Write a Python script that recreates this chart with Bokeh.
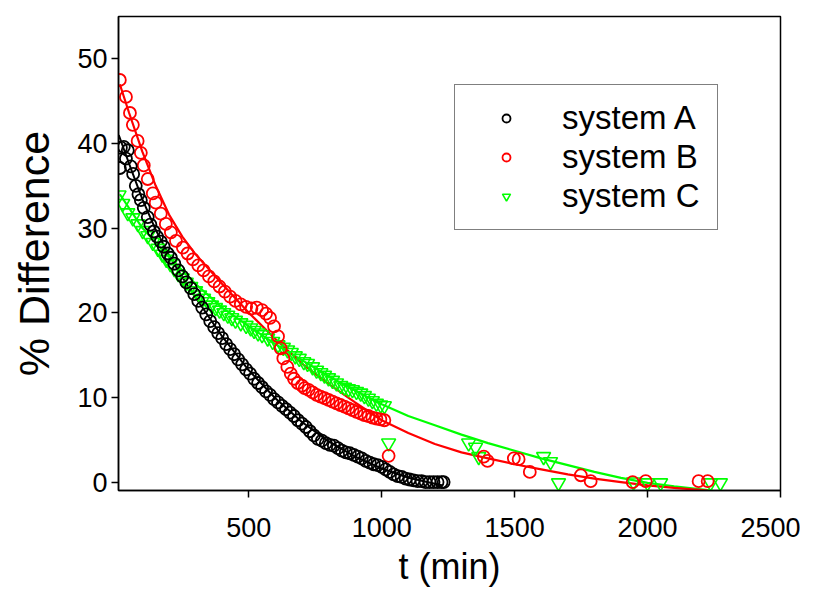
from bokeh.plotting import figure
from bokeh.models import Legend, LegendItem, FixedTicker
from bokeh.embed import file_html
from bokeh.resources import INLINE

# ---------------- data ----------------
a_t = [15, 19, 30, 38, 45, 56, 65, 75, 85, 94, 105, 120, 130, 143, 155, 169, 180, 195, 207, 220,
       235, 250, 265, 282, 295, 310, 325, 340, 355, 370, 385, 400, 415, 430, 445, 460, 475, 490, 505, 520,
       535, 550, 565, 580, 595, 610, 625, 640, 655, 670, 685, 700, 715, 730, 745, 760, 775, 790, 805, 820,
       835, 850, 865, 880, 895, 910, 925, 940, 955, 970, 985, 1000, 1015, 1030, 1045, 1060, 1075, 1090, 1105, 1120,
       1135, 1150, 1165, 1180, 1195, 1210, 1225, 1233]
a_y = [37.1, 39.5, 39.6, 38.2, 39.2, 37.3, 36.4, 35.0, 34.0, 33.3, 32.4, 31.3, 30.4, 29.6, 29.0, 28.4, 27.8, 27.0, 26.5, 25.8,
       25.0, 24.3, 23.6, 22.9, 22.2, 21.4, 20.6, 19.8, 19.0, 18.3, 17.6, 17.0, 16.3, 15.7, 15.1, 14.5, 13.9, 13.3, 12.8, 12.2,
       11.7, 11.2, 10.7, 10.3, 9.8, 9.4, 9.0, 8.6, 8.2, 7.8, 7.3, 6.9, 6.5, 6.0, 5.5, 5.1, 4.9, 4.6, 4.4, 4.3,
       4.0, 3.7, 3.5, 3.4, 3.2, 3.0, 2.8, 2.5, 2.3, 2.1, 2.0, 1.8, 1.5, 1.2, 0.9, 0.7, 0.6, 0.4, 0.3, 0.2,
       0.1, 0.1, 0.0, 0.0, 0.0, 0.0, 0.0, 0.0]

b_t = [15, 38, 53, 64, 82, 94, 105, 120, 139, 150, 169, 188, 207, 226, 252, 270, 290, 310, 330, 350,
       370, 390, 410, 430, 450, 470, 490, 510, 530, 550, 565, 580, 595, 610, 620, 630, 645, 658, 670, 684,
       700, 710, 725, 740, 755, 770, 785, 800, 815, 830, 845, 860, 875, 890, 905, 920, 935, 950, 965, 980,
       995, 1010, 1026, 1384, 1398, 1497, 1515, 1557, 1749, 1786, 1944, 1993, 2192, 2226]
b_y = [47.5, 45.5, 43.6, 42.2, 40.3, 38.9, 37.4, 35.8, 34.1, 33.0, 31.7, 30.5, 29.5, 28.5, 27.7, 27.0, 26.3, 25.6, 25.0, 24.3,
       23.7, 23.1, 22.5, 21.9, 21.4, 21.0, 20.7, 20.5, 20.6, 20.3, 19.9, 19.4, 18.4, 17.2, 15.8, 14.6, 13.6, 12.8, 12.2, 11.7,
       11.4, 11.1, 10.9, 10.6, 10.3, 10.1, 9.9, 9.7, 9.5, 9.3, 9.1, 8.9, 8.7, 8.5, 8.3, 8.1, 7.9, 7.8, 7.6, 7.5,
       7.4, 7.3, 3.1, 3.0, 2.5, 2.8, 2.7, 1.2, 0.8, 0.1, 0.0, 0.1, 0.1, 0.1]

c_t = [12, 26, 45, 64, 83, 101, 120, 139, 158, 175, 190, 205, 220, 235, 250, 265, 282, 300, 315, 330,
       346, 360, 375, 390, 406, 421, 436, 450, 470, 490, 507, 520, 535, 550, 571, 590, 610, 630, 646, 660,
       675, 690, 707, 721, 740, 755, 771, 785, 800, 815, 830, 846, 860, 875, 890, 905, 921, 935, 950, 965,
       980, 996, 1010, 1026, 1327, 1353, 1365, 1609, 1635, 1665, 1947, 2000, 2049, 2237, 2274]
c_y = [33.9, 32.9, 31.8, 31.2, 30.5, 29.7, 29.1, 28.3, 27.6, 26.9, 26.3, 25.8, 25.2, 24.6, 24.1, 23.6, 23.1, 22.6, 22.1, 21.7,
       21.3, 20.9, 20.6, 20.3, 20.0, 19.7, 19.4, 19.1, 18.8, 18.5, 18.2, 17.9, 17.6, 17.4, 17.0, 16.6, 16.2, 15.9, 15.6, 15.3,
       14.9, 14.6, 14.2, 14.0, 13.6, 13.2, 12.9, 12.6, 12.3, 12.0, 11.7, 11.4, 11.2, 11.0, 10.9, 10.7, 10.5, 10.2, 9.9, 9.6,
       9.3, 9.1, 9.0, 4.6, 4.6, 4.1, 3.0, 3.0, 2.4, -0.1, 0.0, -0.1, -0.1, -0.1, -0.1]

# fitted curves
a_fit_t = [11, 50, 100, 150, 200, 250, 300, 400, 500, 600, 700, 800, 900, 1000, 1100, 1200, 1230]
a_fit_y = [41.0, 37.6, 33.4, 29.8, 26.8, 24.2, 21.8, 17.2, 13.2, 9.9, 7.1, 4.8, 3.0, 1.6, 0.5, -0.2, -0.4]

b_fit_t = [15, 50, 100, 150, 200, 250, 300, 400, 500, 600, 700, 800, 900, 1000, 1100, 1200, 1300, 1400,
           1500, 1600, 1700, 1800, 1900, 2000, 2100, 2227]
b_fit_y = [47.0, 43.6, 39.0, 35.0, 31.6, 29.0, 26.9, 23.4, 20.0, 16.9, 14.0, 11.6, 9.4, 7.3, 5.8, 4.5, 3.5, 2.8,
           2.1, 1.5, 0.9, 0.4, 0.0, -0.4, -0.7, -1.0]

c_fit_t = [15, 100, 200, 300, 400, 500, 600, 700, 800, 900, 1000, 1100, 1200, 1300, 1400, 1500, 1600, 1700,
           1800, 1900, 2000, 2100, 2244]
c_fit_y = [34.0, 30.0, 26.6, 23.4, 20.6, 18.4, 16.3, 14.4, 12.5, 10.8, 9.2, 7.8, 6.7, 5.6, 4.6, 3.7, 2.8, 2.0,
           1.2, 0.5, -0.1, -0.5, -1.0]

x_ticks = [500, 1000, 1500, 2000, 2500]
y_ticks = [0, 10, 20, 30, 40, 50]

FONT = "Liberation Sans"
BLACK, RED, GREEN = "#000000", "#FF0000", "#00FF00"

p = figure(width=800, height=589, x_range=(10, 2500), y_range=(-1, 55),
           output_backend="svg", toolbar_location=None,
           min_border_left=118, min_border_right=20, min_border_top=16, min_border_bottom=99)
p.background_fill_color = "white"
p.border_fill_color = "white"
p.grid.visible = False
p.outline_line_color = "black"
p.outline_line_width = 1.5

for ax in (p.xaxis[0], p.yaxis[0]):
    ax.axis_line_width = 1.5
    ax.major_tick_line_width = 1.5
    ax.major_tick_in = 0
    ax.major_tick_out = 7
    ax.minor_tick_line_color = None
    ax.major_label_text_font = FONT
    ax.major_label_text_font_size = "27px"
    ax.major_label_text_color = "black"
    ax.axis_label_text_font = FONT
    ax.axis_label_text_font_style = "normal"
    ax.axis_label_text_color = "black"

p.xaxis[0].axis_label_text_font_size = "36px"
p.yaxis[0].axis_label_text_font_size = "43px"
p.xaxis[0].ticker = FixedTicker(ticks=x_ticks)
p.yaxis[0].ticker = FixedTicker(ticks=y_ticks)
p.xaxis[0].axis_label = "t (min)"
p.yaxis[0].axis_label = "% Difference"
p.xaxis[0].major_label_standoff = 20
p.xaxis[0].axis_label_standoff = 6
p.yaxis[0].major_label_standoff = 4
p.yaxis[0].axis_label_standoff = 16

# fit lines
p.line(a_fit_t, a_fit_y, line_color=BLACK, line_width=2)
p.line(c_fit_t, c_fit_y, line_color=GREEN, line_width=2.2)
p.line(b_fit_t, b_fit_y, line_color=RED, line_width=2.2)

# data markers
rc = p.scatter(c_t, c_y, marker="inverted_triangle", size=14, fill_color=None,
               line_color=GREEN, line_width=1.6)
rb = p.scatter(b_t, b_y, marker="circle", size=12, fill_color=None,
               line_color=RED, line_width=1.8)
ra = p.scatter(a_t, a_y, marker="circle", size=12, fill_color=None,
               line_color=BLACK, line_width=1.8)

legend = Legend(items=[LegendItem(label="system A", renderers=[ra]),
                       LegendItem(label="system B", renderers=[rb]),
                       LegendItem(label="system C", renderers=[rc])],
                location=(336, 260), margin=0, padding=14, spacing=1,
                glyph_width=74, glyph_height=20, label_height=36, label_width=141,
                label_standoff=19, label_text_font=FONT, label_text_font_size="33px",
                label_text_color="black", border_line_color="black", border_line_width=1.5,
                background_fill_color="white", background_fill_alpha=1.0)
p.add_layout(legend, "center")

open("out.html", "w").write(file_html(p, INLINE))
